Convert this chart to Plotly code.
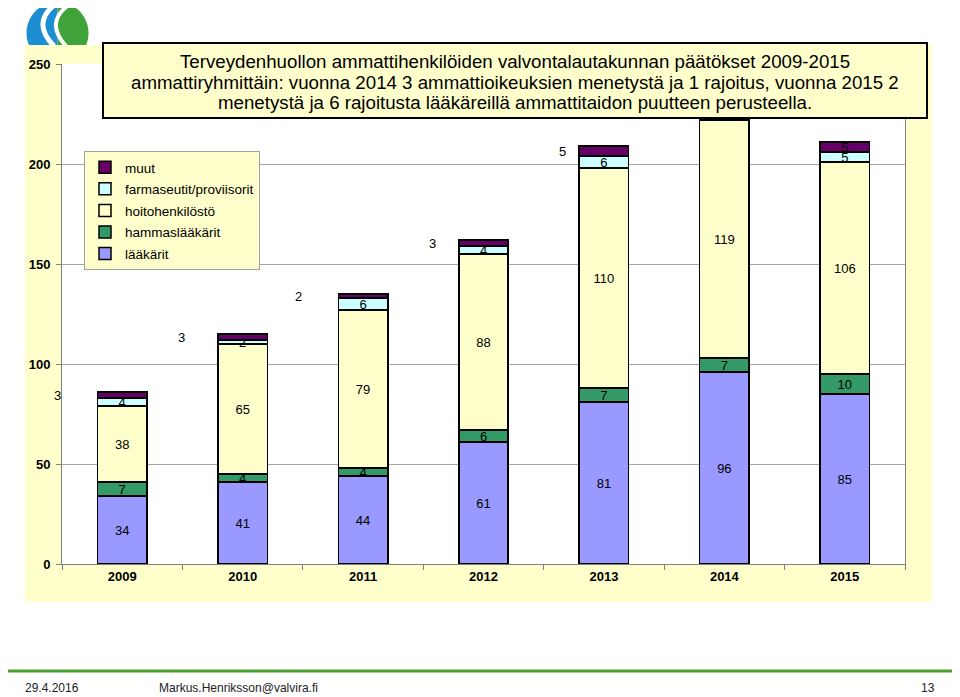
import math
import plotly.graph_objects as go

# ---------------- data ----------------
years = ["2009", "2010", "2011", "2012", "2013", "2014", "2015"]
laakarit = [34, 41, 44, 61, 81, 96, 85]
hammaslaakarit = [7, 4, 4, 6, 7, 7, 10]
hoitohenkilosto = [38, 65, 79, 88, 110, 119, 106]
farmaseutit = [4, 2, 6, 4, 6, 5, 5]
muut = [3, 3, 2, 3, 5, 4, 5]
series_names = ["lääkärit", "hammaslääkärit", "hoitohenkilöstö",
                "farmaseutit/proviisorit", "muut"]
y_ticks = [0, 50, 100, 150, 200, 250]
title_lines = [
    "Terveydenhuollon ammattihenkilöiden valvontalautakunnan päätökset 2009-2015",
    "ammattiryhmittäin: vuonna 2014 3 ammattioikeuksien menetystä ja 1 rajoitus, vuonna 2015 2",
    "menetystä ja 6 rajoitusta lääkäreillä ammattitaidon puutteen perusteella.",
]
footer_date = "29.4.2016"
footer_mail = "Markus.Henriksson@valvira.fi"
footer_page = "13"

# ---------------- style ----------------
# the page body has an 8px margin, so the figure is 8px smaller and shifted
OFF = 8
W, H = 960 - OFF, 697 - OFF
PL, PR, PT, PB = 62, 905, 64, 564          # plot area in reference pixels
ML, MR, MT, MB = PL - OFF, W - (PR - OFF), PT - OFF, H - (PB - OFF)
PW, PH = PR - PL, PB - PT
FONT = "Liberation Sans, Arial, sans-serif"
colors = ["#9999FF", "#339966", "#FFFFCC", "#CCFFFF", "#660066"]
YELLOW = "#FFFFCC"
LABEL_SIZE = 13
# horizontal pixel offsets of the "muut" labels (placed beside the bars)
muut_label_shift = [-65, -61, -65, -51, -41, -50, 0]


def px(x, y):
    """reference pixel -> paper coordinates"""
    return (x - PL) / PW, (PB - y) / PH


fig = go.Figure()
values = [laakarit, hammaslaakarit, hoitohenkilosto, farmaseutit, muut]
for i, (name, vals) in enumerate(zip(series_names, values)):
    texts = [str(v) for v in vals]
    if name == "muut":
        tpos = ["none"] * (len(vals) - 1) + ["inside"]
    else:
        tpos = "inside"
    fig.add_trace(go.Bar(
        x=years, y=vals, name=name, legendgroup=name, legendrank=len(values) - i,
        marker=dict(color=colors[i], line=dict(color="#000000", width=1.5)),
        text=texts, textposition=tpos, textangle=0,
        insidetextanchor="middle", constraintext="none",
        insidetextfont=dict(family=FONT, size=LABEL_SIZE, color="#000000"),
        width=0.41, hoverinfo="x+y+name",
    ))

# muut labels beside the bars
annotations = []
for i, yr in enumerate(years):
    if yr in ("2014", "2015"):
        continue  # 2014 hidden behind the title box, 2015 drawn inside the bar
    base = laakarit[i] + hammaslaakarit[i] + hoitohenkilosto[i] + farmaseutit[i]
    annotations.append(dict(
        x=i, y=base + muut[i] / 2, xref="x", yref="y", text=str(muut[i]),
        showarrow=False, xshift=muut_label_shift[i],
        font=dict(family=FONT, size=LABEL_SIZE, color="#000000")))

# title text (one annotation per line for the tighter line spacing)
for k, line in enumerate(title_lines):
    tx, ty = px(515, 61 + 21 * k)
    annotations.append(dict(
        x=tx, y=ty, xref="paper", yref="paper", xanchor="center", yanchor="middle",
        text=line, showarrow=False, align="center",
        font=dict(family=FONT, size=18.7, color="#000000")))

# footer
for txt, x, anchor in [(footer_date, 52, "center"), (footer_mail, 157, "left"),
                       (footer_page, 937, "right")]:
    fx, fy = px(x, 688)
    annotations.append(dict(x=fx, y=fy, xref="paper", yref="paper", text=txt,
                            showarrow=False, xanchor=anchor, yanchor="middle",
                            font=dict(family=FONT, size=12, color="#222222")))

shapes = []


def poly_path(points):
    pts = [px(x, y) for x, y in points]
    return "M" + "L".join(f"{a:.5f},{b:.5f}" for a, b in pts) + "Z"


# logo (decorative)
cx, cy, r = 57.5, 33, 31
left_half = [(cx + r * math.cos(math.radians(a)), cy - r * math.sin(math.radians(a)))
             for a in range(90, 271, 5)]
right_half = [(cx + r * math.cos(math.radians(a)), cy - r * math.sin(math.radians(a)))
              for a in range(-90, 91, 5)]
shapes.append(dict(type="path", xref="paper", yref="paper", layer="below",
                   path=poly_path(left_half + [(cx, cy + r)]),
                   fillcolor="#1E8ED3", line=dict(width=0)))
shapes.append(dict(type="path", xref="paper", yref="paper", layer="below",
                   path=poly_path(right_half + [(cx, cy - r)]),
                   fillcolor="#3FA33A", line=dict(width=0)))


def curve(p0, c, p1):
    a, b, d = px(*p0), px(*c), px(*p1)
    return f"M{a[0]:.5f},{a[1]:.5f} Q{b[0]:.5f},{b[1]:.5f} {d[0]:.5f},{d[1]:.5f}"


for (p0, c, p1, w) in [((58, 2), (30, 22), (54, 46), 5),
                       ((70, 4), (44, 22), (66, 46), 4)]:
    shapes.append(dict(type="path", xref="paper", yref="paper", layer="below",
                       path=curve(p0, c, p1), line=dict(color="#FFFFFF", width=w)))

# chart area background
x0, y0 = px(25, 45)
x1, y1 = px(932, 602)
shapes.append(dict(type="rect", xref="paper", yref="paper", layer="below",
                   x0=x0, x1=x1, y0=y1, y1=y0, fillcolor=YELLOW, line=dict(width=0)))
shapes.append(dict(type="rect", xref="paper", yref="paper", layer="below",
                   x0=0, x1=1, y0=0, y1=1, fillcolor="#FFFFFF", line=dict(width=0)))

# title box
x0, y0 = px(103, 43)
x1, y1 = px(927, 118)
shapes.append(dict(type="rect", xref="paper", yref="paper", layer="above",
                   x0=x0, x1=x1, y0=y1, y1=y0, fillcolor=YELLOW,
                   line=dict(color="#000000", width=2)))

# footer line
x0, yl = px(0, 671)
x1, _ = px(960, 671)
shapes.append(dict(type="line", xref="paper", yref="paper", x0=x0, x1=x1, y0=yl, y1=yl,
                   line=dict(color="#4C9F2F", width=3)))

lx, ly = px(84, 151)
fig.update_layout(
    width=W, height=H,
    margin=dict(l=ML, r=MR, t=MT, b=MB, autoexpand=False),
    paper_bgcolor="#FFFFFF", plot_bgcolor="#FFFFFF",
    barmode="stack",
    font=dict(family=FONT, size=12, color="#000000"),
    showlegend=True,
    legend=dict(x=lx, y=ly, xanchor="left", yanchor="top",
                traceorder="grouped", tracegroupgap=1,
                bgcolor=YELLOW, bordercolor="#A0A0A0", borderwidth=1,
                font=dict(family=FONT, size=13.5, color="#000000")),
    xaxis=dict(type="category", categoryorder="array", categoryarray=years,
               range=[-0.5, len(years) - 0.5], autorange=False,
               showline=True, linecolor="#808080", linewidth=1,
               ticks="outside", tickson="boundaries", ticklen=5, tickcolor="#808080",
               tickangle=0,
               tickfont=dict(family=FONT, size=13, color="#000000", weight="bold"),
               showgrid=False, fixedrange=True),
    yaxis=dict(range=[0, 250], tickvals=y_ticks, showline=True, linecolor="#808080",
               linewidth=1, mirror=True, ticks="outside", ticklen=5, tickcolor="#808080",
               ticklabelstandoff=3,
               tickfont=dict(family=FONT, size=13, color="#000000", weight="bold"),
               showgrid=True, gridcolor="#A6A6A6", gridwidth=1, zeroline=False,
               fixedrange=True),
    annotations=annotations,
    shapes=shapes,
)

fig.write_html("out.html")
